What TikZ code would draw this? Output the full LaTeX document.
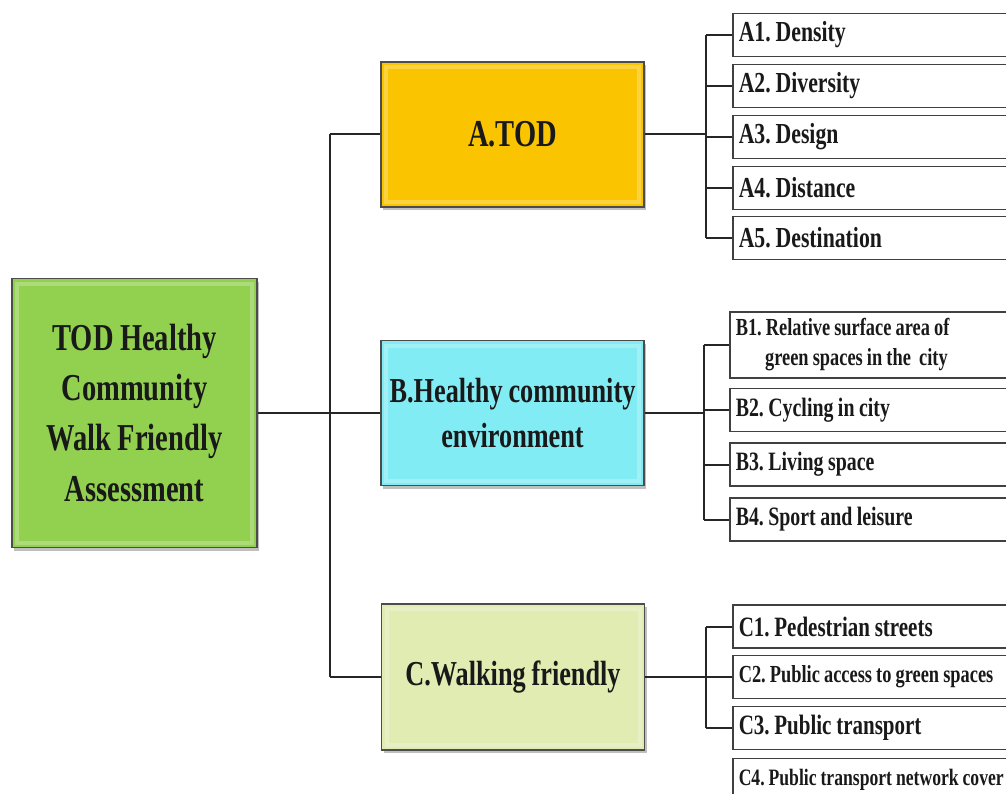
\documentclass[tikz,border=0pt]{standalone}
\usepackage{fontspec}
\setmainfont{Liberation Serif}[FakeStretch=0.75, WordSpace=0.9]
\usetikzlibrary{shadows}

\definecolor{rootgreen}{RGB}{146,208,80}
\definecolor{todgold}{RGB}{250,196,0}
\definecolor{healthcyan}{RGB}{130,236,244}
\definecolor{walkpale}{RGB}{224,236,178}

\begin{document}
\frenchspacing
\begin{tikzpicture}[x=1pt, y=-1pt,
    mainbox/.style={draw=black!70, line width=1.8pt, align=center, text=black!90,
        drop shadow={shadow xshift=2pt, shadow yshift=-3pt, opacity=0.5},
        path picture={\draw[white, opacity=0.25, line width=4pt]
            ([shift={(5pt,-5pt)}]path picture bounding box.north west) rectangle
            ([shift={(-5pt,5pt)}]path picture bounding box.south east);}},
    leafbox/.style={draw=black!75, line width=1.5pt, anchor=west, minimum height=43pt,
        text width=280pt, inner xsep=6pt, align=flush left, text=black!90},
    link/.style={line width=2pt, black!85}]

    % Frame
    \useasboundingbox (0,0) rectangle (1006,794);
    \clip (0,0) rectangle (1006,794);

    % Main boxes
    \node[mainbox, fill=rootgreen, minimum width=245pt, minimum height=269pt,
          font=\bfseries\fontsize{38}{50}\selectfont] (root) at (134.5,413)
          {TOD Healthy\\Community\\Walk Friendly\\Assessment};
    \node[mainbox, fill=todgold, minimum width=263pt, minimum height=145pt,
          font=\bfseries\fontsize{38}{46}\selectfont] (A) at (512.5,134.5) {A.TOD};
    \node[mainbox, fill=healthcyan, minimum width=263pt, minimum height=145pt,
          font=\bfseries\fontsize{35}{45}\selectfont] (B) at (512.5,413) 
          {B.Healthy community\\environment};
    \node[mainbox, fill=walkpale, minimum width=263pt, minimum height=146pt,
          font=\bfseries\fontsize{35}{45}\selectfont] (C) at (513,677) {C.Walking friendly};

    % Trunk
    \coordinate (trunk) at (330,0);
    \draw[link] (root.east) -- (B.west);
    \draw[link] (A.west -| trunk) -- (C.west -| trunk);
    \draw[link] (A.west -| trunk) -- (A.west);
    \draw[link] (C.west -| trunk) -- (C.west);

    % A criteria
    \foreach \n/\y/\t in {1/35/Density, 2/86/Diversity, 3/137/Design, 4/188/Distance, 5/238/Destination}
        \node[leafbox, font=\bfseries\fontsize{29}{32}\selectfont] (a\n) at (732,\y) {A\n. \t};

    % B criteria
    \node[leafbox, minimum height=66pt, font=\bfseries\fontsize{24.5}{30}\selectfont] (b1) at (729,345)
        {B1. Relative surface area of\\\hspace*{1.2em}green spaces in the \ city};
    \foreach \n/\y/\t in {2/410/Cycling in city, 3/464.5/Living space, 4/519.5/Sport and leisure}
        \node[leafbox, font=\bfseries\fontsize{26.5}{30}\selectfont] (b\n) at (729,\y) {B\n. \t};

    % C criteria
    \node[leafbox, font=\bfseries\fontsize{28}{30}\selectfont] (c1) at (732,626.5) {C1. Pedestrian streets};
    \node[leafbox, font=\bfseries\fontsize{24.5}{30}\selectfont] (c2) at (732,677) {C2. Public access to green spaces};
    \node[leafbox, font=\bfseries\fontsize{28}{30}\selectfont] (c3) at (732,728) {C3. Public transport};
    \node[leafbox, font=\bfseries\fontsize{23.5}{30}\selectfont] (c4) at (732,780) {C4. Public transport network cover};

    % Branches
    \coordinate (aspine) at (706,0);
    \coordinate (bspine) at (704,0);
    \coordinate (cspine) at (706,0);
    \draw[link] (A.east) -- (A.east -| aspine);
    \draw[link] (a1.west -| aspine) -- (a5.west -| aspine);
    \foreach \n in {1,...,5}
        \draw[link] (a\n.west -| aspine) -- (a\n.west);
    \draw[link] (B.east) -- (B.east -| bspine);
    \draw[link] (b1.west -| bspine) -- (b4.west -| bspine);
    \foreach \n in {1,...,4}
        \draw[link] (b\n.west -| bspine) -- (b\n.west);
    \draw[link] (C.east) -- (C.east -| cspine);
    \draw[link] (c1.west -| cspine) -- (c3.west -| cspine);
    \foreach \n in {1,...,3}
        \draw[link] (c\n.west -| cspine) -- (c\n.west);

\end{tikzpicture}
\end{document}
